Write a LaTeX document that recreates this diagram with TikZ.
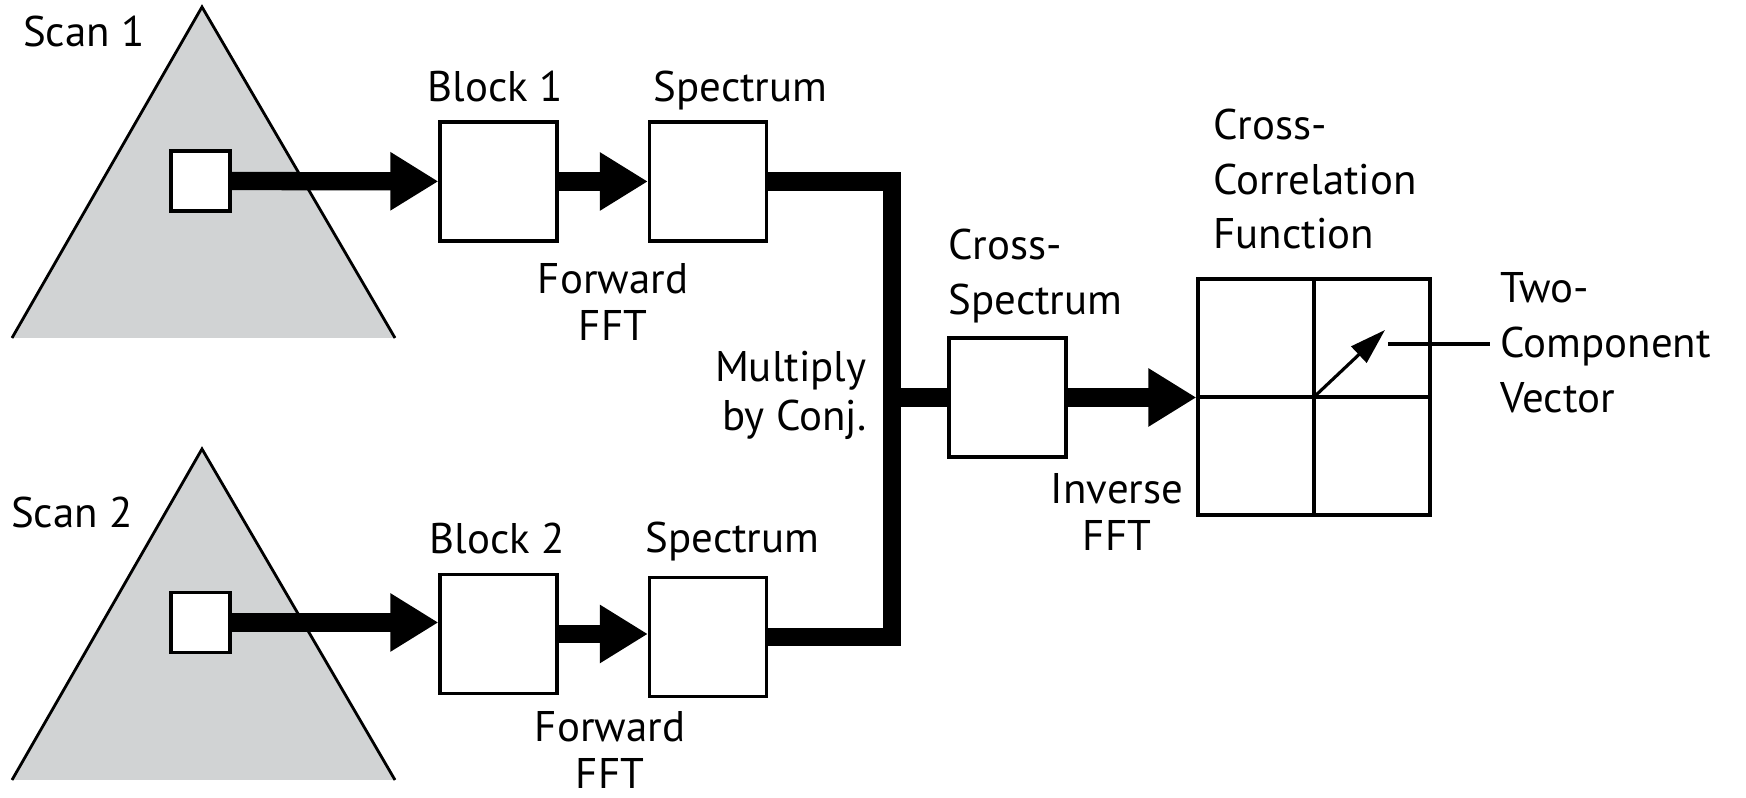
\documentclass[tikz,border=0pt]{standalone}
\usepackage{fontspec}
\setmainfont{PT Sans}
\usepackage{tikz}
\usetikzlibrary{positioning, arrows.meta, calc}
\definecolor{ScanGray}{RGB}{209,211,212}

\tikzset{
  box/.style={draw, line width=0.9pt, fill=white, inner sep=0pt,
              minimum width=1.17cm, minimum height=1.19cm},
  patch/.style={box, minimum width=0.59cm, minimum height=0.6cm},
  fat/.style={line width=5.2pt, -{Triangle[length=4.8mm, width=5.5mm]}},
  bus/.style={line width=5.2pt, line join=miter},
  lbl/.style={inner sep=0pt, font=\fontsize{12.2}{15.6}\selectfont},
}

\begin{document}
\begin{tikzpicture}
  \useasboundingbox (0,0) rectangle (17.46,7.98);

  % Scan 1 with its block
  \fill[ScanGray] (0.12,4.60) -- (2.02,7.91) -- (3.95,4.60) -- cycle;
  \draw[line width=0.8pt] (0.12,4.60) -- (2.02,7.91) -- (3.95,4.60);
  \node[lbl, anchor=base] (scan1) at (0.84,7.51) {Scan 1};
  \node[patch] (sq1) at (2.005,6.17) {};

  % Scan 2 with its block
  \fill[ScanGray] (0.12,0.18) -- (2.02,3.49) -- (3.95,0.18) -- cycle;
  \draw[line width=0.8pt] (0.12,0.18) -- (2.02,3.49) -- (3.95,0.18);
  \node[lbl, anchor=base] (scan2) at (0.72,2.70) {Scan 2};
  \node[patch] (sq2) at (2.005,1.755) {};

  % Upper row
  \node[box] (blk1) at (4.985,6.165) {};
  \node[box] (spec1) at (7.08,6.165) {};
  \node[lbl, anchor=base] (blk1lbl) at (4.955,6.96) {Block 1};
  \node[lbl, anchor=base west] (spec1lbl) at (6.53,6.96) {Spectrum};
  \node[lbl, anchor=north, align=center, font=\fontsize{12.2}{13.4}\selectfont]
    (fwd1) at (6.13,5.35) {Forward\\FFT};

  % Lower row
  \node[box] (blk2) at (4.985,1.64) {};
  \node[box] (spec2) at (7.08,1.61) {};
  \node[lbl, anchor=base] (blk2lbl) at (4.975,2.44) {Block 2};
  \node[lbl, anchor=base west] (spec2lbl) at (6.45,2.45) {Spectrum};
  \node[lbl, anchor=north, align=center, font=\fontsize{12.2}{13.4}\selectfont]
    (fwd2) at (6.10,0.87) {Forward\\FFT};

  \draw[fat] (sq1) -- (blk1);
  \draw[fat] (blk1) -- (spec1);
  \draw[fat] (sq2.east) -- (sq2.east -| blk2.west);
  \draw[fat] (blk2.east) -- (blk2.east -| spec2.west);

  % Conjugate product
  \node[box] (xspec) at (10.075,4.005) {};
  \coordinate (junc) at (8.92,4.005);
  \draw[bus] (spec1.east) -| (junc) |- (spec2.east);
  \draw[bus] (junc) -- (xspec.west);
  \node[lbl, anchor=north east, align=right, font=\fontsize{12.2}{14.2}\selectfont]
    (mult) at (8.67,4.48) {Multiply\\by Conj.};
  \node[lbl, anchor=north west, align=left] (xspeclbl) at (9.48,5.70)
    {Cross-\\Spectrum};

  % Correlation plane
  \node[draw, line width=0.9pt, inner sep=0pt, minimum width=2.32cm,
        minimum height=2.36cm] (ccf) at (13.14,4.01) {};
  \draw[line width=0.9pt] (ccf.north) -- (ccf.south);
  \draw[line width=0.9pt] (ccf.west) -- (ccf.east);
  \draw[fat] (xspec.east) -- (xspec.east -| ccf.west);
  \node[lbl, anchor=north west, align=left] (ccflbl) at (12.13,6.90)
    {Cross-\\Correlation\\Function};
  \node[lbl, anchor=north, align=center, font=\fontsize{12.2}{13.4}\selectfont]
    (inv) at (11.17,3.25) {Inverse\\FFT};

  % Displacement vector
  \coordinate (vtip) at (13.85,4.68);
  \draw[line width=0.9pt, -{Triangle[length=3.6mm, width=2.2mm]}]
    (ccf.center) -- (vtip);
  \node[lbl, anchor=north west, align=left] (veclbl) at (15.0,5.26)
    {Two-\\Component\\Vector};
  \coordinate (lead) at (13.88,4.54);
  \draw[line width=0.9pt] (lead) -- ([xshift=-1mm]lead -| veclbl.west);
\end{tikzpicture}
\end{document}
